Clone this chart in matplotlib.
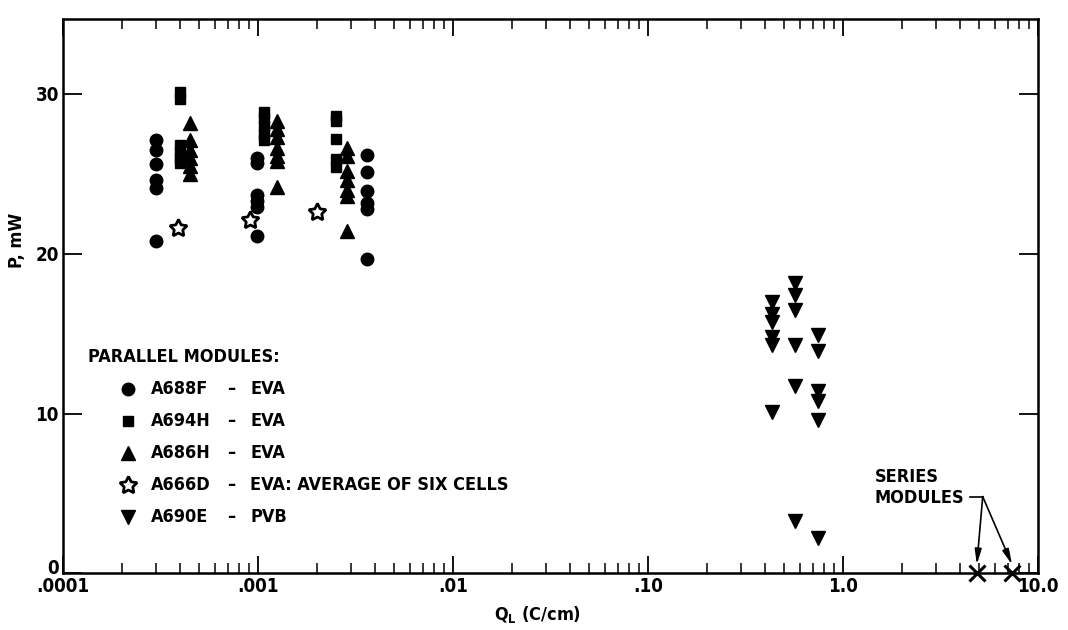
import numpy as np
import matplotlib
matplotlib.use("Agg")
import matplotlib.pyplot as plt
import matplotlib.transforms as mtransforms
from matplotlib import font_manager
from matplotlib.ticker import LogLocator, FixedLocator, FixedFormatter, NullFormatter

# pick a narrow bold face if one is around, else Liberation Sans
narrow = None
for f in font_manager.fontManager.ttflist:
    low = (f.fname + f.name).lower()
    if ('narrow' in low or 'condensed' in low) and f.weight in ('bold', 700):
        narrow = f.name
        break
fam = [narrow] if narrow else []
plt.rcParams['font.family'] = fam + ['Liberation Sans', 'DejaVu Sans']
plt.rcParams['font.weight'] = 'bold'
plt.rcParams['font.stretch'] = 'condensed'
plt.rcParams['mathtext.default'] = 'regular'
fs = 13 if narrow else 11.5

# A688F - EVA (circles)
q_a688f = [3.0e-4, 3.0e-4, 3.0e-4, 3.0e-4, 3.0e-4, 3.0e-4,
           9.9e-4, 9.9e-4, 9.9e-4, 9.9e-4, 9.9e-4, 9.9e-4,
           3.6e-3, 3.6e-3, 3.6e-3, 3.6e-3, 3.6e-3, 3.6e-3]
p_a688f = [27.1, 26.5, 25.6, 24.6, 24.1, 20.8,
           26.0, 25.7, 23.7, 23.3, 22.9, 21.1,
           26.2, 25.1, 23.9, 23.2, 22.8, 19.7]

# A694H - EVA (squares)
q_a694h = [4.0e-4, 4.0e-4, 4.0e-4, 4.0e-4, 4.0e-4, 4.0e-4,
           1.07e-3, 1.07e-3, 1.07e-3, 1.07e-3, 1.07e-3,
           2.5e-3, 2.5e-3, 2.5e-3, 2.5e-3, 2.5e-3]
p_a694h = [30.1, 29.7, 26.8, 26.4, 26.0, 25.7,
           28.9, 28.5, 28.0, 27.5, 27.1,
           28.6, 28.3, 27.2, 25.9, 25.4]

# A686H - EVA (triangles)
q_a686h = [4.5e-4, 4.5e-4, 4.5e-4, 4.5e-4, 4.5e-4, 4.5e-4,
           1.25e-3, 1.25e-3, 1.25e-3, 1.25e-3, 1.25e-3, 1.25e-3, 1.25e-3,
           2.85e-3, 2.85e-3, 2.85e-3, 2.85e-3, 2.85e-3, 2.85e-3, 2.85e-3]
p_a686h = [28.2, 27.1, 26.5, 26.0, 25.5, 25.0,
           28.3, 27.8, 27.3, 26.6, 26.1, 25.8, 24.2,
           26.6, 26.1, 25.2, 24.6, 24.0, 23.6, 21.4]

# A666D - EVA: average of six cells (open stars)
q_a666d = [3.9e-4, 9.1e-4, 2.0e-3]
p_a666d = [21.6, 22.1, 22.6]

# A690E - PVB (inverted triangles)
q_a690e = [0.43, 0.43, 0.43, 0.43, 0.43, 0.43,
           0.57, 0.57, 0.57, 0.57, 0.57, 0.57,
           0.74, 0.74, 0.74, 0.74, 0.74, 0.74]
p_a690e = [17.0, 16.2, 15.7, 14.8, 14.3, 10.1,
           18.2, 17.4, 16.5, 14.3, 11.7, 3.3,
           14.9, 13.9, 11.4, 10.8, 9.6, 2.2]

# series modules (crosses)
q_series = [4.85, 7.35]
p_series = [0.0, 0.0]

legend_names = ["A688F", "A694H", "A686H", "A666D", "A690E"]
legend_mats = ["EVA", "EVA", "EVA", "EVA: AVERAGE OF SIX CELLS", "PVB"]

xtick_vals = [1e-4, 1e-3, 1e-2, 1e-1, 1.0, 10.0]
xtick_labels = [".0001", ".001", ".01", ".10", "1.0", "10.0"]
ytick_vals = [0, 10, 20, 30]

fig = plt.figure(figsize=(10.68, 6.3), dpi=100)
ax = fig.add_axes([0.059, 0.09, 0.913, 0.88])

star = (5, 1, 0)
styles = [
    (q_a688f, p_a688f, dict(marker='o', ms=9, mfc='black', mec='black')),
    (q_a694h, p_a694h, dict(marker='s', ms=7.5, mfc='black', mec='black')),
    (q_a686h, p_a686h, dict(marker='^', ms=10, mfc='black', mec='black')),
    (q_a666d, p_a666d, dict(marker=star, ms=13, mfc='white', mec='black', mew=2)),
    (q_a690e, p_a690e, dict(marker='v', ms=10.5, mfc='black', mec='black')),
]
for q, p, st in styles:
    ax.plot(q, p, linestyle='none', **st)

ax.plot(q_series, p_series, linestyle='none', marker='x', ms=11, mew=2.2,
        color='black', clip_on=False, zorder=5)

ax.set_xscale('log')
ax.set_xlim(1e-4, 10.0)
ax.set_ylim(0, 34.7)

ax.xaxis.set_major_locator(FixedLocator(xtick_vals))
ax.xaxis.set_major_formatter(FixedFormatter(xtick_labels))
ax.xaxis.set_minor_locator(LogLocator(base=10, subs=np.arange(2, 10)))
ax.xaxis.set_minor_formatter(NullFormatter())
ax.yaxis.set_major_locator(FixedLocator(ytick_vals))

ax.tick_params(axis='x', which='major', direction='in', top=True, length=12,
               width=1.3, labelsize=fs + 0.5, pad=3)
ax.tick_params(axis='x', which='minor', direction='in', top=True, length=7,
               width=1.1)
ax.tick_params(axis='y', which='major', direction='in', right=True, length=14,
               width=1.3, labelsize=fs + 0.5, pad=3)
for s in ax.spines.values():
    s.set_linewidth(1.8)

# nudge the "0" label up a little so it clears ".0001"
fig.canvas.draw()
lab0 = ax.get_yticklabels()[0]
lab0.set_transform(lab0.get_transform() +
                   mtransforms.ScaledTranslation(0, 5 / 72, fig.dpi_scale_trans))

ax.set_xlabel("Q$_\\mathregular{L}$ (C/cm)", fontsize=fs, fontweight='bold',
              labelpad=2)
ax.xaxis.set_label_coords(0.487, -0.055)
ax.set_ylabel("P, mW", fontsize=fs, fontweight='bold')
ax.yaxis.set_label_coords(-0.038, 0.6)

# legend block drawn by hand
ax.text(0.026, 0.39, "PARALLEL MODULES:", transform=ax.transAxes,
        fontsize=fs, va='center', ha='left')
row_y = 0.333
for i, (name, mat) in enumerate(zip(legend_names, legend_mats)):
    yy = row_y - i * 0.058
    ax.plot([0.067], [yy], transform=ax.transAxes, linestyle='none',
            **styles[i][2])
    ax.text(0.090, yy, name, transform=ax.transAxes, fontsize=fs, va='center')
    ax.text(0.168, yy, "\u2013", transform=ax.transAxes, fontsize=fs, va='center')
    ax.text(0.192, yy, mat, transform=ax.transAxes, fontsize=fs, va='center')

# series modules callout
ax.text(1.45, 6.0, "SERIES", fontsize=fs, ha='left', va='center')
ax.text(1.45, 4.7, "MODULES", fontsize=fs, ha='left', va='center')
ax.plot([4.45, 5.2], [4.8, 4.8], color='black', lw=1.2)
for qx in q_series:
    ax.annotate("", xy=(qx, 0.55), xytext=(5.2, 4.8),
                arrowprops=dict(arrowstyle='-|>,head_length=0.9,head_width=0.2',
                                color='black', lw=1.2, shrinkA=0, shrinkB=0))

fig.savefig("out.png", dpi=100)
